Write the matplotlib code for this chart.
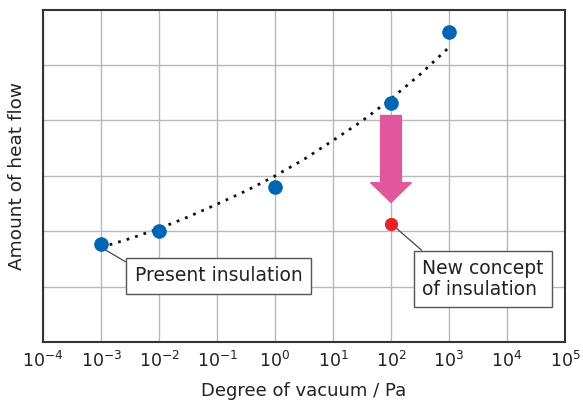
import numpy as np
import matplotlib.pyplot as plt

# measured points (blue) and new concept point (red)
pressure = [1e-3, 1e-2, 1e0, 1e2, 1e3]
heat_flow = [1.78, 2.00, 2.80, 4.32, 5.59]
new_pressure = [1e2]
new_heat_flow = [2.14]

# dotted trend curve, every half decade
trend_x = [1e-3, 10**-2.5, 1e-2, 10**-1.5, 1e-1, 10**-0.5, 1e0, 10**0.5,
           1e1, 10**1.5, 1e2, 10**2.5, 1e3]
trend_y = [1.71, 1.87, 2.05, 2.26, 2.49, 2.73, 3.00, 3.30, 3.64, 3.99,
           4.39, 4.83, 5.32]

decades = [10.0**k for k in range(-4, 6)]
text_col = "#222222"

fig = plt.figure(figsize=(5.83, 4.03), dpi=100)
ax = fig.add_axes([0.074, 0.151, 0.895, 0.825])
ax.set_xscale("log")
ax.set_xlim(1e-4, 1e5)
ax.set_ylim(0, 6)
ax.set_xticks(decades)
ax.xaxis.set_minor_locator(plt.NullLocator())
ax.set_yticks([1, 2, 3, 4, 5])
ax.set_yticklabels([])
ax.tick_params(length=0, labelsize=12.5, colors=text_col, pad=6)
ax.grid(True, color="#b8b8b8", linewidth=1.0)
ax.set_axisbelow(True)
for s in ax.spines.values():
    s.set_color("#333333")
    s.set_linewidth(1.5)

ax.plot(trend_x, trend_y, linestyle=(0, (1, 2.2)), color="#111111", linewidth=2.0)
ax.plot(pressure, heat_flow, "o", color="#0066b3", markersize=9.5, zorder=4)
ax.plot(new_pressure, new_heat_flow, "o", color="#e8202a", markersize=8.5, zorder=4)

# big pink arrow
ax.annotate("", xy=(1e2, 2.52), xytext=(1e2, 4.09),
            arrowprops=dict(arrowstyle="simple,head_length=0.95,head_width=1.95,tail_width=1.0",
                            mutation_scale=15, color="#e0579b", shrinkA=0, shrinkB=0),
            zorder=3)

box = dict(boxstyle="square,pad=0.45", fc="white", ec="#555555", lw=1.0)
ax.annotate("Present insulation", xy=(1e-3, 1.71), xytext=(10**-0.974, 1.2),
            ha="center", va="center", fontsize=13.5, color=text_col, bbox=box,
            arrowprops=dict(arrowstyle="-", color="#333333", lw=0.8,
                            relpos=(0.0, 0.95), shrinkA=0, shrinkB=0))
ax.annotate("New concept\nof insulation", xy=(1e2, 2.14), xytext=(10**3.586, 1.14),
            ha="center", va="center", fontsize=13.5, color=text_col, bbox=box,
            multialignment="left", linespacing=1.1,
            arrowprops=dict(arrowstyle="-", color="#333333", lw=0.8,
                            relpos=(0.08, 1.0), shrinkA=0, shrinkB=0))

ax.set_xlabel("Degree of vacuum / Pa", fontsize=13, color=text_col, labelpad=8)
ax.set_ylabel("Amount of heat flow", fontsize=13.3, color=text_col, labelpad=6)

plt.savefig("out.png", dpi=100)
